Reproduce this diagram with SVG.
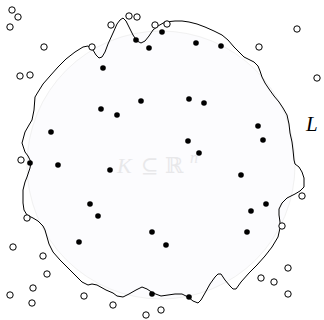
<svg xmlns="http://www.w3.org/2000/svg" width="324" height="320" viewBox="0 0 324 320">
<style>
.in{fill:#000}
.out{fill:#fff;stroke:#000;stroke-width:1}
.curve{fill:none;stroke:#000;stroke-width:1;stroke-linejoin:round}
.lab{fill:#e8e8ea;font-family:'Liberation Serif','DejaVu Serif',serif}
</style>
<g id="K">
<circle cx="161" cy="165" r="134" fill="#fcfcfe" stroke="#f1f1f1" stroke-width="1"/>
<text class="lab" x="117" y="173" font-size="22" font-style="italic">K</text>
<text class="lab" x="141" y="173" font-size="21" font-family="'DejaVu Serif',serif">⊆</text>
<text class="lab" x="165" y="173" font-size="22" font-family="'DejaVu Serif',serif">ℝ</text>
<text class="lab" x="190" y="163" font-size="16" font-style="italic">n</text>
</g>
<g id="L">
<path class="curve" d="M22,143 L25,132 L29,125 L32,120 L34,110 L35,97 L38,92 L43,84 L50,76 L58,67 L66,59 L75,52 L83,47 L88,46 L93,50 L96,55 L99,58 L102,57 L105,52 L108,44 L113,33 L117,24 L120,20 L123,18 L126,21 L129,27 L133,35 L137,41 L141,43 L145,41 L149,36 L153,30 L158,26 L165,22 L175,21 L182,21 L189,22 L197,24 L205,27 L214,31 L222,35 L228,40 L234,47 L239,52 L244,57 L250,60 L254,62 L258,66 L260,71 L262,77 L265,83 L269,89 L274,96 L279,102 L283,108 L287,115 L289,124 L290,133 L292,142 L293,150 L294,160 L295,164 L299,167 L302,172 L304,178 L304,187 L300,191 L295,194 L287,198 L282,203 L279,209 L279,215 L280,222 L280,228 L278,237 L272,247 L265,256 L257,265 L249,273 L241,282 L236,289 L233,289 L230,286 L225,280 L221,274 L218,274 L215,277 L210,284 L205,293 L201,300 L198,303 L193,301 L188,297 L182,294 L175,294 L168,295 L161,296 L153,293 L147,289 L142,287 L136,290 L129,294 L123,297 L117,296 L113,293 L106,290 L97,285 L92,284 L88,285 L82,282 L75,275 L67,267 L60,260 L53,252 L49,244 L47,237 L45,230 L43,226 L38,221 L33,218 L27,215 L24,210 L23,203 L23,190 L25,182 L27,177 L30,168 L31,162 L28,156 L25,152 Z"/>
<text x="306" y="131" font-family="'Liberation Serif','DejaVu Serif',serif" font-style="italic" font-size="21" fill="#000">L</text>
</g>
<g id="inside-points">
<circle class="in" cx="136" cy="40" r="2.8"/>
<circle class="in" cx="149" cy="48" r="2.8"/>
<circle class="in" cx="162" cy="32" r="2.8"/>
<circle class="in" cx="196" cy="43" r="2.8"/>
<circle class="in" cx="221" cy="46" r="2.8"/>
<circle class="in" cx="103" cy="68" r="2.8"/>
<circle class="in" cx="101" cy="109" r="2.8"/>
<circle class="in" cx="117" cy="115" r="2.8"/>
<circle class="in" cx="141" cy="101" r="2.8"/>
<circle class="in" cx="189" cy="99" r="2.8"/>
<circle class="in" cx="204" cy="103" r="2.8"/>
<circle class="in" cx="51" cy="132" r="2.8"/>
<circle class="in" cx="258" cy="126" r="2.8"/>
<circle class="in" cx="263" cy="140" r="2.8"/>
<circle class="in" cx="188" cy="141" r="2.8"/>
<circle class="in" cx="199" cy="153" r="2.8"/>
<circle class="in" cx="30" cy="163" r="2.8"/>
<circle class="in" cx="58" cy="165" r="2.8"/>
<circle class="in" cx="110" cy="170" r="2.8"/>
<circle class="in" cx="241" cy="175" r="2.8"/>
<circle class="in" cx="90" cy="204" r="2.8"/>
<circle class="in" cx="98" cy="216" r="2.8"/>
<circle class="in" cx="266" cy="204" r="2.8"/>
<circle class="in" cx="251" cy="211" r="2.8"/>
<circle class="in" cx="247" cy="232" r="2.8"/>
<circle class="in" cx="152" cy="232" r="2.8"/>
<circle class="in" cx="79" cy="242" r="2.8"/>
<circle class="in" cx="166" cy="245" r="2.8"/>
<circle class="in" cx="152" cy="294" r="2.8"/>
<circle class="in" cx="189" cy="297" r="2.8"/>
</g>
<g id="outside-points">
<circle class="out" cx="12" cy="10" r="3.2"/>
<circle class="out" cx="18" cy="17" r="3.2"/>
<circle class="out" cx="10" cy="27" r="3.2"/>
<circle class="out" cx="44" cy="47" r="3.2"/>
<circle class="out" cx="20" cy="76" r="3.2"/>
<circle class="out" cx="30" cy="75" r="3.2"/>
<circle class="out" cx="92" cy="47" r="3.2"/>
<circle class="out" cx="111" cy="25" r="3.2"/>
<circle class="out" cx="129" cy="16" r="3.2"/>
<circle class="out" cx="137" cy="17" r="3.2"/>
<circle class="out" cx="155" cy="25" r="3.2"/>
<circle class="out" cx="167" cy="24" r="3.2"/>
<circle class="out" cx="297" cy="29" r="3.2"/>
<circle class="out" cx="259" cy="47" r="3.2"/>
<circle class="out" cx="317" cy="78" r="3.2"/>
<circle class="out" cx="21" cy="160" r="3.2"/>
<circle class="out" cx="27" cy="218" r="3.2"/>
<circle class="out" cx="13" cy="247" r="3.2"/>
<circle class="out" cx="43" cy="256" r="3.2"/>
<circle class="out" cx="47" cy="274" r="3.2"/>
<circle class="out" cx="33" cy="288" r="3.2"/>
<circle class="out" cx="10" cy="295" r="3.2"/>
<circle class="out" cx="32" cy="303" r="3.2"/>
<circle class="out" cx="84" cy="296" r="3.2"/>
<circle class="out" cx="113" cy="305" r="3.2"/>
<circle class="out" cx="146" cy="315" r="3.2"/>
<circle class="out" cx="161" cy="310" r="3.2"/>
<circle class="out" cx="302" cy="196" r="3.2"/>
<circle class="out" cx="282" cy="226" r="3.2"/>
<circle class="out" cx="288" cy="268" r="3.2"/>
<circle class="out" cx="261" cy="278" r="3.2"/>
<circle class="out" cx="274" cy="282" r="3.2"/>
<circle class="out" cx="288" cy="294" r="3.2"/>
</g>
</svg>
